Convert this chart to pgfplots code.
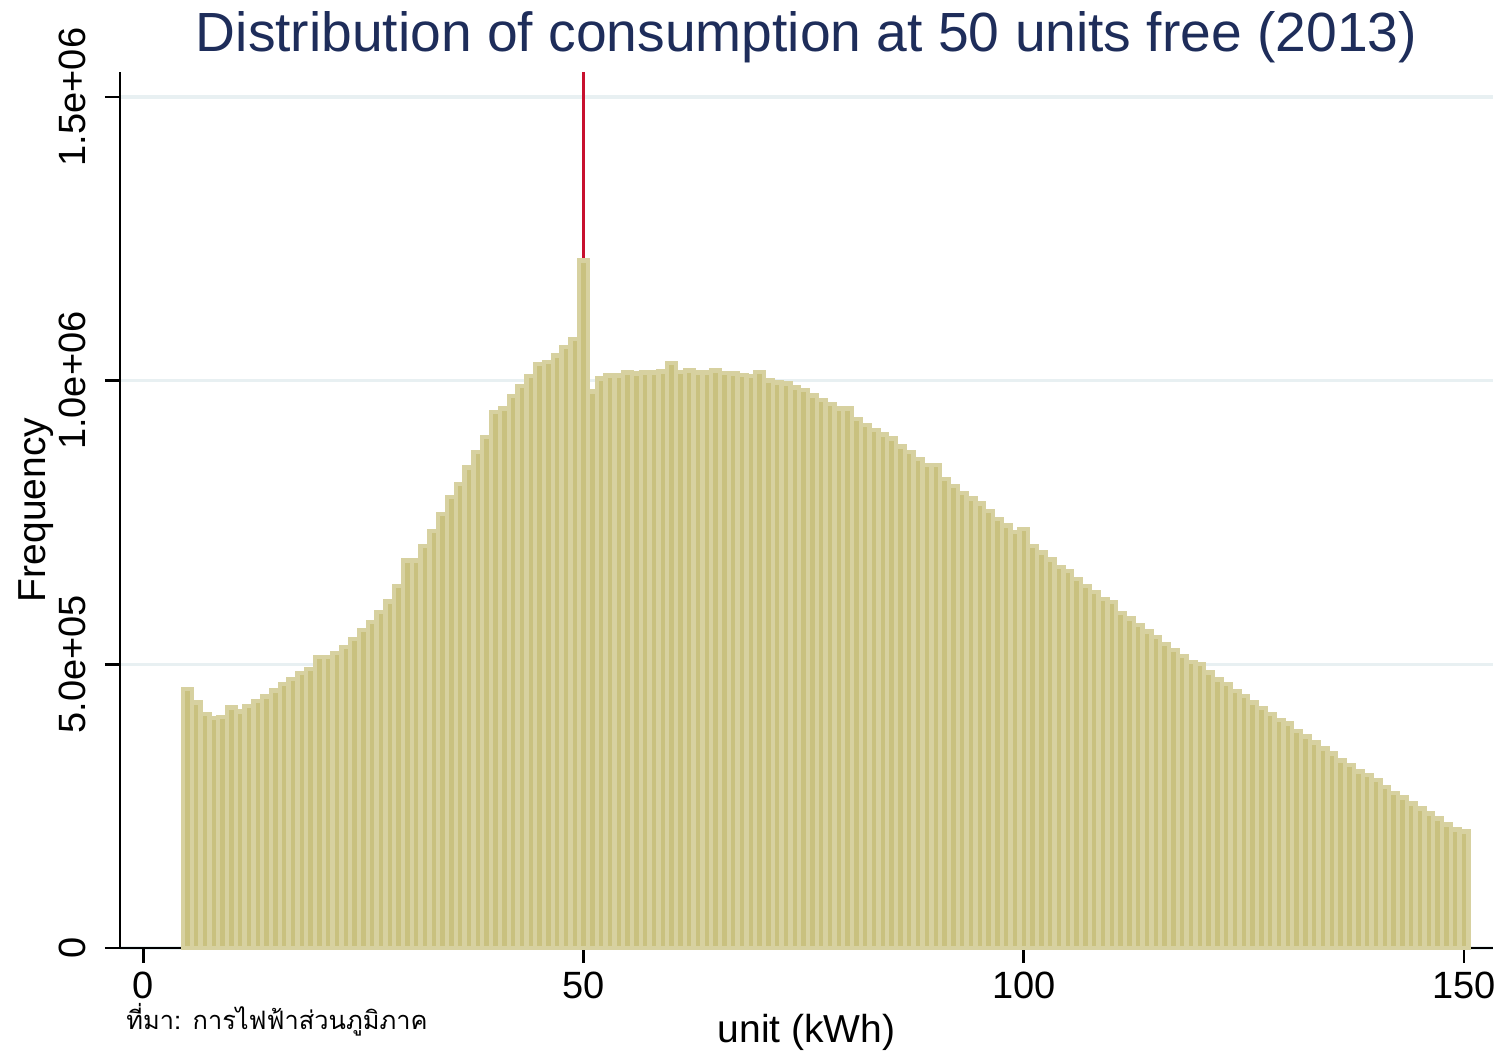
\documentclass[border=0pt]{standalone}
\usepackage{fontspec}
\setmainfont{Liberation Sans}
\newfontfamily\thaifont[Script=Thai]{Loma}
\usepackage{pgfplots}
\usepackage{pgfplotstable}
\pgfplotsset{compat=1.18}
\definecolor{barfill}{HTML}{C9C17F}
\definecolor{barline}{HTML}{D7D1A0}
\definecolor{gridc}{HTML}{E8F0F2}
\definecolor{titlec}{HTML}{1E2D5A}
\definecolor{redline}{HTML}{C8102E}

% bars: unit (kWh) vs frequency
\pgfplotstableread{
x y
5 457000
6 433000
7 412500
8 405000
9 407000
10 424000
11 416600
12 426600
13 435000
14 443600
15 454000
16 465000
17 473600
18 484700
19 491800
20 513000
21 513000
22 520000
23 531000
24 544700
25 560000
26 575000
27 592000
28 611000
29 637500
30 682700
31 682700
32 709000
33 735000
34 764500
35 794400
36 818000
37 847000
38 874000
39 901000
40 944800
41 951000
42 973000
43 990700
44 1008000
45 1029000
46 1033000
47 1044000
48 1059000
49 1073500
50 1212000
51 980700
52 1003500
53 1008800
54 1008800
55 1014000
56 1012400
57 1014000
58 1014000
59 1016000
60 1031000
61 1014800
62 1017700
63 1014000
64 1014000
65 1017700
66 1013000
67 1012400
68 1009400
69 1008500
70 1015500
71 1000000
72 997000
73 994700
74 988000
75 984000
76 974000
77 965500
78 959000
79 951000
80 951000
81 932000
82 922000
83 913000
84 905000
85 898000
86 884000
87 874000
88 861500
89 851000
90 851000
91 826700
92 814400
93 802000
94 792000
95 783500
96 770000
97 755700
98 745000
99 733000
100 738000
101 708600
102 697000
103 684500
104 672000
105 664000
106 650000
107 637500
108 627000
109 615000
110 610000
111 590500
112 580500
113 569000
114 558000
115 547700
116 535300
117 524800
118 514700
119 503600
120 500600
121 485300
122 473300
123 464800
124 452500
125 443700
126 433000
127 422500
128 412000
129 401900
130 396000
131 382500
132 372500
133 361900
134 351300
135 342500
136 330800
137 322000
138 311400
139 304400
140 295600
141 283800
142 272700
143 265000
144 254400
145 245500
146 236700
147 228000
148 218000
149 209000
150 205000
}\hist

\begin{document}
\begin{tikzpicture}
\begin{axis}[
  scale only axis,
  width=686.5pt, height=438pt,
  xmin=-2.65, xmax=153.3,
  ymin=0, ymax=1544000,
  axis x line*=bottom, axis y line*=left,
  axis line style={line width=1.3pt, -},
  tick align=outside,
  major tick length=7.5pt,
  tick style={black, line width=1.3pt},
  xtick={0,50,100,150},
  xticklabels={0,50,100,150},
  ytick={0,500000,1000000,1500000},
  yticklabels={0,5.0e+05,1.0e+06,1.5e+06},
  scaled y ticks=false,
  ymajorgrids,
  grid style={gridc, line width=1.6pt},
  tick label style={font=\fontsize{19}{23}\selectfont},
  yticklabel style={rotate=90, anchor=base, yshift=9.5pt},
  xticklabel style={anchor=base, yshift=-18pt},
  xlabel={unit (kWh)},
  ylabel={Frequency},
  label style={font=\fontsize{19.5}{23}\selectfont},
  xlabel style={at={(rel axis cs:0.5,0)}, anchor=base, yshift=-47.5pt},
  ylabel style={at={(rel axis cs:0,0.5)}, anchor=base, yshift=37pt},
  title={Distribution of consumption at 50 units free (2013)},
  title style={at={(rel axis cs:0.5,1)}, anchor=base, yshift=4pt,
    font=\fontsize{27.6}{32}\selectfont, text=titlec},
  clip=false,
]
\addplot[redline, line width=1.5pt] coordinates {(50,0) (50,1544000)};
\addplot[ybar, bar width=1, bar shift=0pt, fill=barfill, draw=barline,
  line width=2.2pt] table[x=x, y=y] {\hist};
\node[anchor=base west, font=\thaifont\fontsize{12.7}{15}\selectfont, inner sep=0pt]
  at (rel axis cs:0.0044,-0.0936) {ที่มา: การไฟฟ้าส่วนภูมิภาค};
% page margins as in the reference
\path (rel axis cs:0,0) ++(-60pt,-53.5pt);
\path (rel axis cs:1,1) ++(7pt,36pt);
\end{axis}
\end{tikzpicture}
\end{document}
